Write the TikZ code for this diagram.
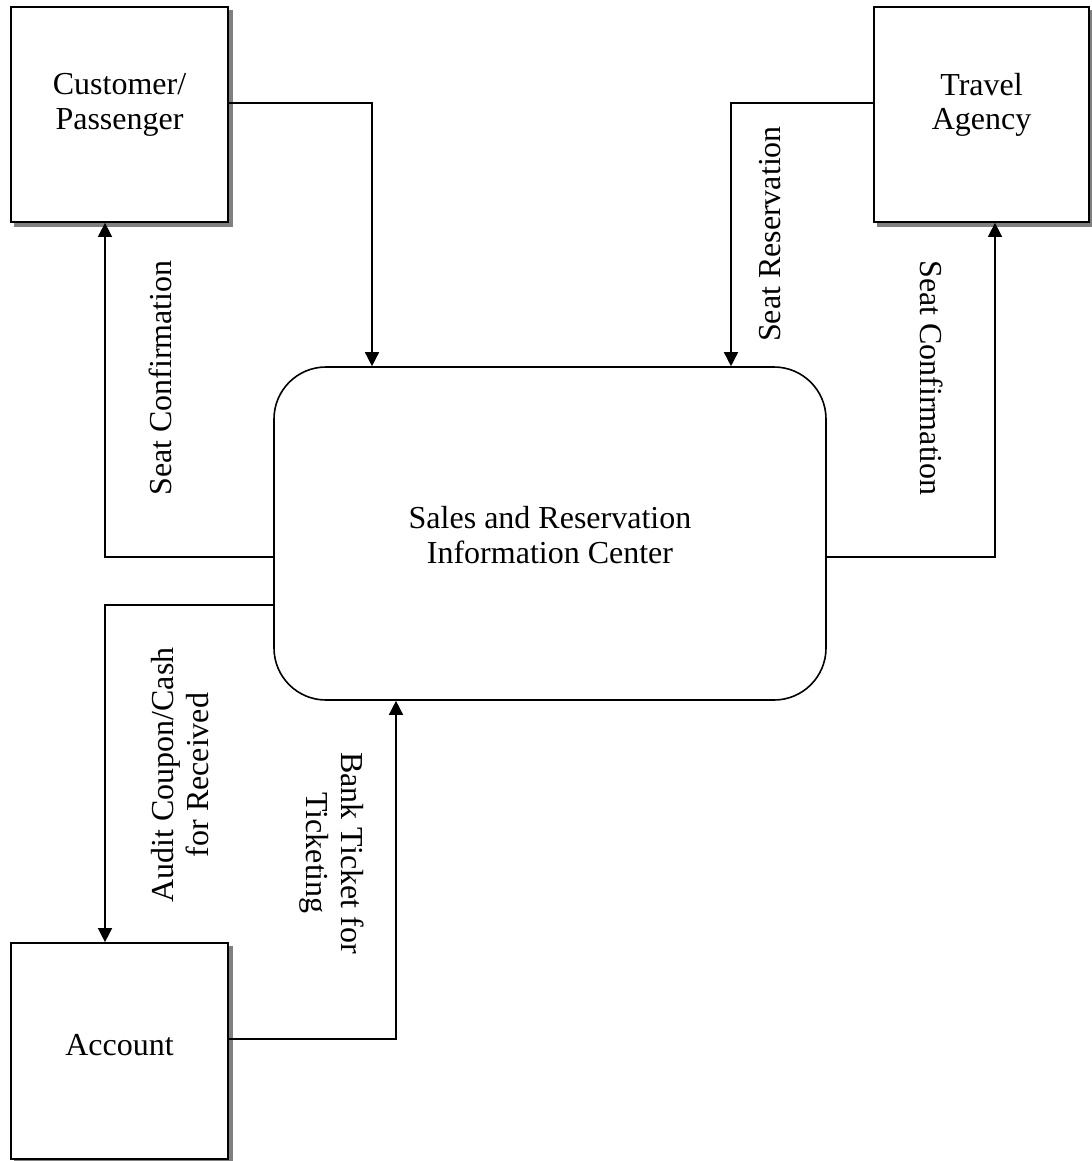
\documentclass[tikz,border=0pt]{standalone}
\usepackage{fontspec}
\setmainfont{Liberation Serif}
\usetikzlibrary{arrows.meta,calc}
\begin{document}
\begin{tikzpicture}[x=0.75pt,y=-0.75pt,
  entity/.style={draw,line width=1.3pt,fill=white,inner sep=0pt,
    preaction={fill=black!50,draw=black!50,line width=1.3pt,transform canvas={shift={(3pt,-3pt)}}}},
  proc/.style={draw,line width=1.2pt,rounded corners=39pt,inner sep=0pt,
    minimum width=414pt,minimum height=249.75pt},
  flow/.style={line width=1.1pt,-{Triangle[length=10.5pt,width=10.5pt]}},
  txt/.style={font=\fontsize{24}{26}\selectfont,align=center,inner sep=0pt},
  lbl/.style={font=\fontsize{24}{26}\selectfont,align=center,inner sep=0pt}]
\useasboundingbox (0,0) rectangle (1092,1161);
% boxes
\node[entity,minimum width=162.75pt,minimum height=161.25pt] (cust) at (119.5,114.5) {};
\node[entity,minimum width=161.25pt,minimum height=161.25pt] (trav) at (981.5,114.5) {};
\node[entity,minimum width=162.75pt,minimum height=162pt] (acct) at (119.5,1051) {};
\node[proc] (sric) at (550,533.5) {};
% texts
\node[txt] (custt) at (119.5,105) {Customer/\\Passenger};
\node[txt] (travt) at (981.5,105) {Travel\\Agency};
\node[txt] (acctt) at (119.5,1045) {Account};
\node[txt] (srict) at (550,535) {Sales and Reservation\\Information Center};
% flows
\draw[flow] (cust.east |- 0,103) -| (sric.north -| 372,0);
\draw[flow] (trav.west |- 0,103) -| (sric.north -| 731,0);
\draw[flow] (sric.west |- 0,557) -| (cust.south -| 105,0);
\draw[flow] (sric.east |- 0,557) -| (trav.south -| 995,0);
\draw[flow] (sric.west |- 0,605) -| (acct.north -| 105,0);
\draw[flow] (acct.east |- 0,1039) -| (sric.south -| 396,0);
% labels
\node[lbl,rotate=90] (l1) at (160,378) {Seat Confirmation};
\node[lbl,rotate=90] (l2) at (770,234) {Seat Reservation};
\node[lbl,rotate=-90] (l3) at (932,378) {Seat Confirmation};
\node[lbl,rotate=90] (l4) at (180,775) {Audit Coupon/Cash\\for Received};
\node[lbl,rotate=-90] (l5) at (332,853) {Bank Ticket for\\Ticketing};
\end{tikzpicture}
\end{document}
